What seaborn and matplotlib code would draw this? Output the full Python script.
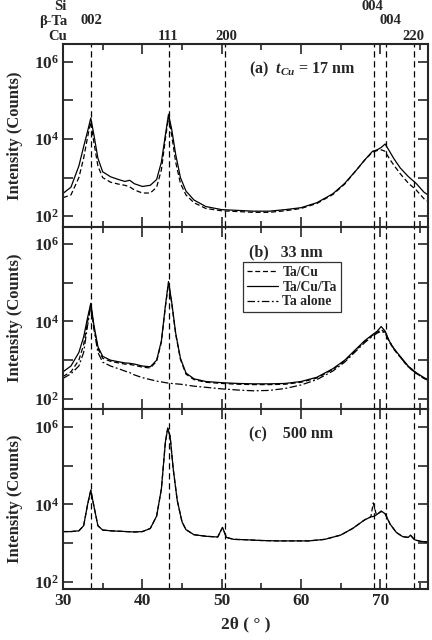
import numpy as np
import pandas as pd
import matplotlib
matplotlib.use("Agg")
import matplotlib.pyplot as plt
import seaborn as sns
from matplotlib.ticker import FixedLocator, FuncFormatter, MultipleLocator, NullLocator

# ---------------- data (log10 of counts) ----------------
x_ab = [30, 31, 32, 32.6, 33.1, 33.5, 33.9, 34.4, 35.0, 36, 37, 37.8, 38.4, 39, 40, 41, 41.8,
        42.4, 42.9, 43.3, 43.7, 44.2, 44.8, 45.5, 46.5, 48, 50, 52, 54, 56, 58, 60, 62, 64,
        65.5, 67, 68, 69, 69.6, 70.1, 70.6, 71.1, 71.7, 72.5, 73.5, 74.5, 75.5, 76]

a_tacu = [2.48, 2.55, 3.0, 3.5, 4.05, 4.44, 3.9, 3.3, 3.0, 2.88, 2.83, 2.8, 2.76, 2.68, 2.6, 2.6, 2.75,
          3.2, 4.0, 4.56, 4.1, 3.4, 2.85, 2.55, 2.35, 2.2, 2.14, 2.12, 2.1, 2.1, 2.14, 2.2, 2.33, 2.56,
          2.83, 3.2, 3.45, 3.66, 3.7, 3.72, 3.68, 3.5, 3.32, 3.1, 2.86, 2.68, 2.45, 2.38]
a_tacuta = [2.59, 2.75, 3.3, 3.8, 4.2, 4.54, 4.1, 3.5, 3.15, 3.02, 2.95, 2.9, 2.93, 2.84, 2.77, 2.8, 2.95,
            3.4, 4.1, 4.64, 4.25, 3.6, 3.0, 2.65, 2.42, 2.25, 2.17, 2.15, 2.13, 2.13, 2.17, 2.22, 2.35, 2.58,
            2.85, 3.2, 3.45, 3.68, 3.72, 3.78, 3.87, 3.7, 3.49, 3.25, 3.03, 2.85, 2.62, 2.55]

b_tacu = [2.58, 2.7, 3.0, 3.4, 4.0, 4.43, 3.85, 3.3, 3.05, 2.97, 2.93, 2.9, 2.89, 2.87, 2.82, 2.8, 2.97,
          3.47, 4.37, 5.0, 4.47, 3.67, 3.02, 2.64, 2.5, 2.43, 2.4, 2.38, 2.37, 2.37, 2.38, 2.43, 2.54, 2.76,
          2.98, 3.28, 3.48, 3.64, 3.72, 3.79, 3.72, 3.48, 3.28, 3.08, 2.83, 2.66, 2.53, 2.48]
b_tacuta = [2.70, 2.85, 3.2, 3.6, 4.1, 4.47, 3.9, 3.35, 3.1, 3.0, 2.96, 2.93, 2.92, 2.9, 2.85, 2.83, 3.0,
            3.5, 4.4, 5.03, 4.5, 3.7, 3.05, 2.67, 2.52, 2.45, 2.42, 2.40, 2.39, 2.39, 2.40, 2.45, 2.56, 2.78,
            3.0, 3.3, 3.5, 3.66, 3.75, 3.87, 3.75, 3.5, 3.3, 3.1, 2.85, 2.68, 2.55, 2.5]
b_ta = [2.53, 2.65, 2.85, 3.2, 3.9, 4.4, 3.8, 3.2, 2.95, 2.85, 2.78, 2.72, 2.68, 2.62, 2.55, 2.5, 2.46,
        2.44, 2.42, 2.41, 2.40, 2.39, 2.38, 2.36, 2.33, 2.30, 2.26, 2.23, 2.21, 2.22, 2.27, 2.36, 2.5, 2.72,
        2.95, 3.25, 3.45, 3.62, 3.7, 3.75, 3.7, 3.5, 3.3, 3.08, 2.83, 2.66, 2.53, 2.48]

x_c = [30, 31, 32, 32.6, 33.1, 33.5, 33.9, 34.4, 35.0, 36, 37, 38, 39, 40, 41, 41.8, 42.4, 42.9,
       43.2, 43.5, 43.9, 44.4, 45.0, 45.5, 46.5, 48, 49.5, 50.1, 50.6, 51.5, 53, 55, 57, 59, 61, 63,
       65, 66.5, 68, 68.8, 69.1, 69.5, 70.1, 70.6, 71.2, 72, 72.8, 73.5, 73.8, 74.3, 75, 75.5, 76]
c_solid = [3.30, 3.30, 3.32, 3.45, 4.0, 4.37, 3.95, 3.45, 3.34, 3.32, 3.31, 3.30, 3.29, 3.30, 3.38, 3.7,
           4.4, 5.6, 5.97, 5.75, 4.9, 4.1, 3.55, 3.35, 3.22, 3.18, 3.16, 3.41, 3.15, 3.1, 3.09, 3.07,
           3.06, 3.06, 3.06, 3.1, 3.21, 3.38, 3.6, 3.68, 3.69, 3.73, 3.83, 3.76, 3.5, 3.28, 3.17, 3.15,
           3.21, 3.09, 3.05, 3.04, 3.03]
c_dashed = [3.30, 3.30, 3.32, 3.45, 4.0, 4.36, 3.95, 3.45, 3.34, 3.32, 3.31, 3.30, 3.29, 3.30, 3.38, 3.7,
            4.4, 5.6, 5.96, 5.75, 4.9, 4.1, 3.55, 3.35, 3.22, 3.18, 3.16, 3.40, 3.15, 3.1, 3.09, 3.07,
            3.06, 3.06, 3.06, 3.1, 3.21, 3.38, 3.6, 3.68, 4.04, 3.73, 3.82, 3.76, 3.5, 3.28, 3.17, 3.15,
            3.20, 3.09, 3.05, 3.04, 3.03]

peak_positions = [33.55, 43.35, 50.45, 69.2, 70.65, 74.2]
panel_texts = ["(a)  $t_{Cu}$ = 17 nm", "(b)   33 nm", "(c)    500 nm"]
legend_labels = ["Ta/Cu", "Ta/Cu/Ta", "Ta alone"]

# ---------------- style ----------------
sns.set_theme(style="ticks")
plt.rcParams["font.family"] = ["Liberation Serif", "DejaVu Serif"]
plt.rcParams["font.weight"] = "bold"
plt.rcParams["mathtext.fontset"] = "custom"
plt.rcParams["mathtext.rm"] = "Liberation Serif:bold"
plt.rcParams["mathtext.bf"] = "Liberation Serif:bold"
plt.rcParams["mathtext.it"] = "Liberation Serif:italic:bold"
plt.rcParams["axes.linewidth"] = 1.5

fig = plt.figure(figsize=(4.32, 6.4), dpi=100)
W, H = 432, 640
left, right = 63, 428
panels_px = [(44, 227), (227, 409), (409, 589)]
ylims = [(10**1.72, 10**6.46), (10**1.74, 10**6.44), (10**1.82, 10**6.46)]

dash = (0, (4, 2.2))
dashdot = (0, (6, 2, 1.5, 2))

def logfmt(v, pos):
    e = int(round(np.log10(v)))
    if e % 2 == 0:
        return r"$\mathbf{10^{%d}}$" % e
    return ""

axes = []
for i, (t, b) in enumerate(panels_px):
    ax = fig.add_axes([left / W, 1 - b / H, (right - left) / W, (b - t) / H])
    axes.append(ax)

def draw(ax, x, y, ls, label=None):
    df = pd.DataFrame({"x": x, "y": 10 ** np.array(y)})
    sns.lineplot(data=df, x="x", y="y", ax=ax, color="black", lw=0.9,
                 linestyle=ls, label=label, legend=False, sort=False)

draw(axes[0], x_ab, a_tacu, dash)
draw(axes[0], x_ab, a_tacuta, "-")
draw(axes[1], x_ab, b_tacu, dash, legend_labels[0])
draw(axes[1], x_ab, b_tacuta, "-", legend_labels[1])
draw(axes[1], x_ab, b_ta, dashdot, legend_labels[2])
draw(axes[2], x_c, c_dashed, dash)
draw(axes[2], x_c, c_solid, "-")

for i, ax in enumerate(axes):
    ax.set_yscale("log")
    ax.set_xlim(30, 76)
    ax.set_ylim(*ylims[i])
    for p in peak_positions:
        ax.axvline(p, color="black", lw=0.9, linestyle=(0, (5, 3)), zorder=0)
    ax.yaxis.set_major_locator(FixedLocator([1e2, 1e3, 1e4, 1e5, 1e6]))
    ax.yaxis.set_minor_locator(NullLocator())
    ax.yaxis.set_major_formatter(FuncFormatter(logfmt))
    ax.xaxis.set_major_locator(MultipleLocator(10))
    ax.xaxis.set_minor_locator(MultipleLocator(5))
    ax.tick_params(which="both", direction="in", top=True, right=True, width=1.2,
                   labelsize=12.5, pad=3)
    ax.tick_params(which="major", length=7)
    ax.tick_params(which="minor", length=4.5)
    if i < 2:
        ax.tick_params(labelbottom=False)
    ax.set_xlabel("")
    ax.set_ylabel("Intensity (Counts)", fontsize=12, fontweight="bold")
    ax.yaxis.set_label_coords(-0.11, 0.5)
    ax.text(0.51, 0.86, panel_texts[i], transform=ax.transAxes, fontsize=11.5,
            fontweight="bold", ha="left", va="center")
    for lab in ax.get_xticklabels() + ax.get_yticklabels():
        lab.set_fontweight("bold")

axes[2].set_xlabel("2θ ( ° )", fontsize=12.5, fontweight="bold", labelpad=5)

leg = axes[1].legend(loc="upper left", bbox_to_anchor=(0.493, 0.808), borderaxespad=0,
                     fontsize=9.8, handlelength=2.3, handletextpad=0.3, labelspacing=0.12,
                     borderpad=0.3, frameon=True, fancybox=False, edgecolor="black")
leg.get_frame().set_linewidth(0.9)
for txt in leg.get_texts():
    txt.set_fontweight("bold")

# header labels
def ftext(xp, yp, s, ha="center"):
    fig.text(xp / W, 1 - yp / H, s, ha=ha, va="center", fontsize=10.5, fontweight="bold")

ftext(67, 6, "Si", ha="right")
ftext(67, 21, "β-Ta", ha="right")
ftext(67, 36, "Cu", ha="right")
ftext(91.5, 21, "002")
ftext(168, 36, "111")
ftext(226, 36, "200")
ftext(372, 6, "004")
ftext(390, 21, "004")
ftext(413, 36, "220")

fig.savefig("out.png", dpi=100)
